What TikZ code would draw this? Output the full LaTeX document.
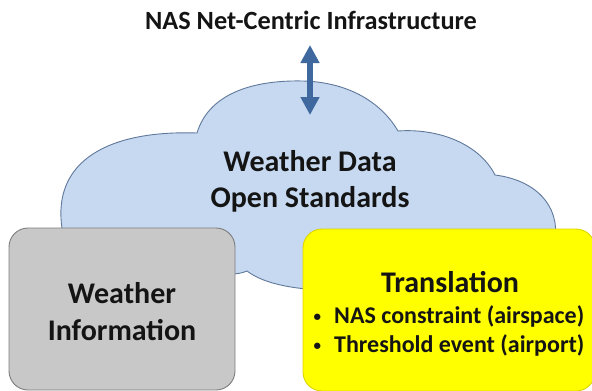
\documentclass[tikz,border=0pt]{standalone}
\usepackage{fontspec}
\setmainfont{Carlito}
\usepackage{tikz}
\usetikzlibrary{positioning,arrows.meta}

\definecolor{cloudfill}{RGB}{198,217,240}
\definecolor{cloudline}{RGB}{95,120,155}
\definecolor{infofill}{RGB}{200,200,200}
\definecolor{infoline}{RGB}{125,125,125}
\definecolor{transfill}{RGB}{255,255,0}
\definecolor{transline}{RGB}{222,212,0}
\definecolor{linkblue}{RGB}{62,104,158}
\definecolor{inktext}{RGB}{20,20,20}

\newcommand{\dotitem}{\llap{\raisebox{1.5pt}{\fontsize{15}{15}\selectfont\textbullet}\hspace{13pt}}}

\begin{document}
\begin{tikzpicture}[x=1pt, y=-1pt,
  every node/.append style={font=\bfseries, text=inktext, inner sep=0pt},
  bigtext/.style={font=\fontsize{30}{36.5}\selectfont\bfseries, align=center},
  smalltext/.style={font=\fontsize{24}{28}\selectfont\bfseries},
  toptext/.style={font=\fontsize{26.3}{30}\selectfont\bfseries},
  panel/.style={rounded corners=19, line width=0.9pt},
  link/.style={linkblue, line width=6pt,
    {Triangle[width=18pt,length=18pt]}-{Triangle[width=18pt,length=18pt]}}]

  \useasboundingbox (0,0) rectangle (592,391);

  % Weather data cloud
  \filldraw[fill=cloudfill, draw=cloudline, line width=0.9pt]
    (62,228) .. controls (52,160) and (110,130) .. (197,133)
    .. controls (210,90) and (260,80) .. (303,81)
    .. controls (345,82) and (380,100) .. (398,131)
    .. controls (440,128) and (480,145) .. (495,175)
    .. controls (535,180) and (560,205) .. (555,240)
    .. controls (555,275) and (420,292) .. (330,290)
    .. controls (300,290) and (265,285) .. (247,271)
    .. controls (242,273) and (238,274) .. (230,274)
    -- (70,265) -- cycle;
  \node[bigtext] (wxdata) at (310,181.5) {Weather Data\\Open Standards};

  % Infrastructure and link
  \node[toptext, anchor=base] (infra) at (311,29) {NAS Net-Centric Infrastructure};
  \coordinate (linktop) at (310,45);
  \coordinate (linkbot) at (310,115);
  \draw[link] (linktop) -- (linkbot);

  % Weather information
  \node[panel, fill=infofill, draw=infoline,
        minimum width=226, minimum height=162] (wxinfo) at (122,309) {};
  \node[bigtext] (wxinfolabel) at (122,311.5) {Weather\\Information};

  % Translation
  \node[panel, fill=transfill, draw=transline,
        minimum width=292, minimum height=162] (trans) at (449,310) {};
  \node[bigtext, anchor=base] (transhead) at (450,292) {Translation};
  \node[smalltext, anchor=base west] (airspace) at (334,323)
        {\dotitem NAS constraint (airspace)};
  \node[smalltext, anchor=base west] (airport) at (334,352)
        {\dotitem Threshold event (airport)};
\end{tikzpicture}
\end{document}
